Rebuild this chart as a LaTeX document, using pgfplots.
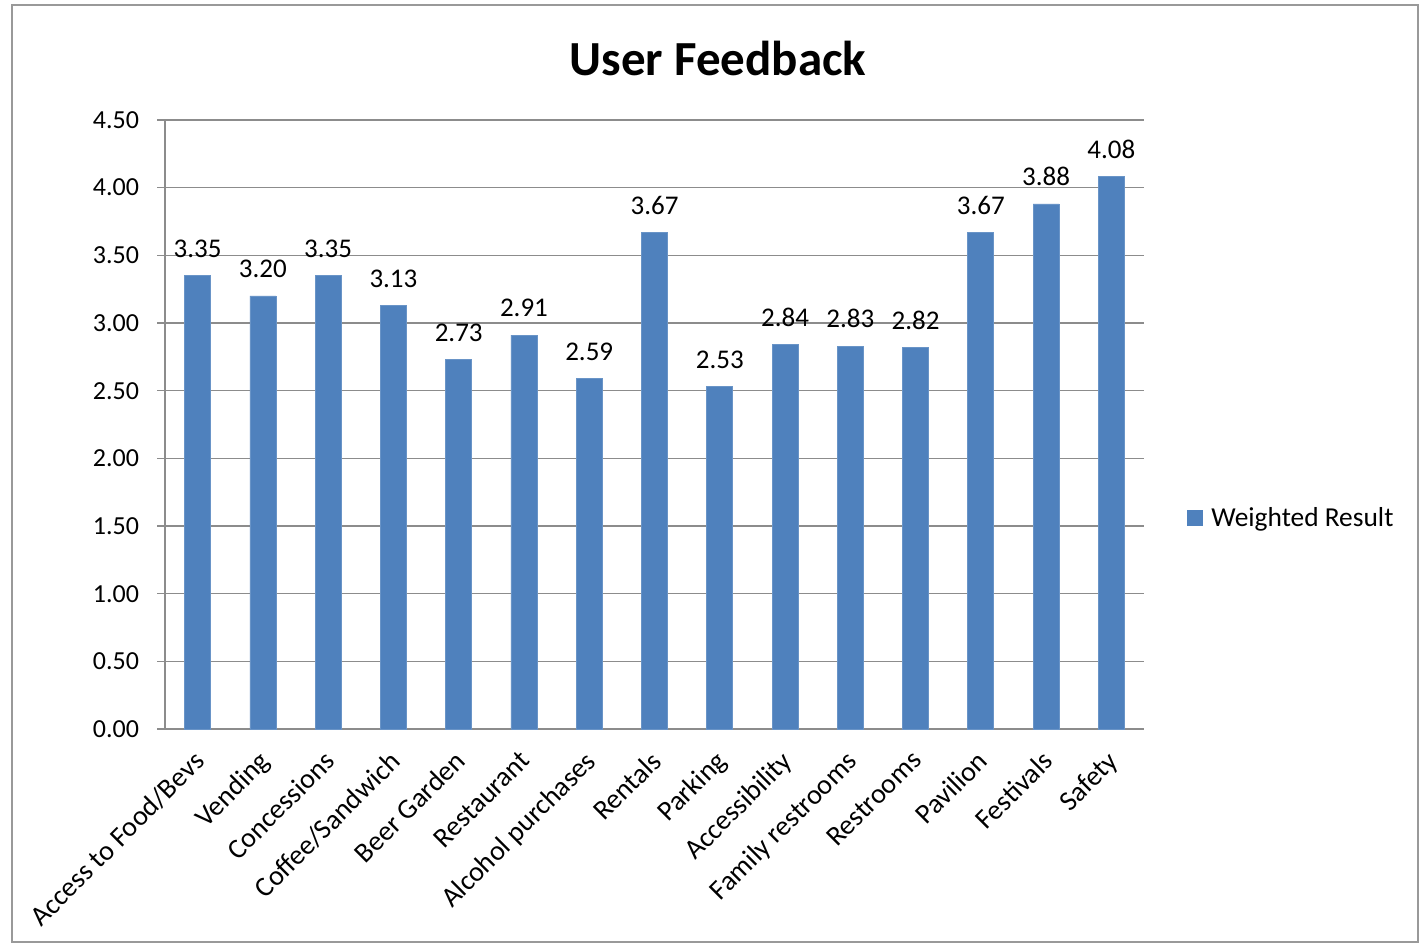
\documentclass[border=0pt]{standalone}
\usepackage{fontspec}
\setmainfont{Carlito}
\usepackage{pgfplots}
\pgfplotsset{compat=1.18}
\definecolor{barblue}{HTML}{4F81BD}
\definecolor{gridgray}{HTML}{8C8C8C}
\begin{document}
\begin{tikzpicture}
\useasboundingbox (0,0) rectangle (712.5bp,472.5bp);
\draw[gray!80, line width=1bp] (6bp,1.5bp) rectangle (709bp,470bp);
\node[font=\fontsize{24.5bp}{29bp}\selectfont\bfseries] at (359bp,443.5bp) {User Feedback};
\begin{axis}[
  at={(82.5bp,108bp)}, anchor=south west,
  scale only axis, width=489.5bp, height=304.5bp,
  xmin=-0.5, xmax=14.5, ymin=0, ymax=4.5,
  ytick={0,0.5,...,4.5},
  axis x line=bottom, axis y line=left,
  axis line style={gridgray, line width=0.8bp, -},
  ymajorgrids, grid style={gridgray, line width=0.7bp},
  tick align=outside, major tick length=4bp,
  xtick={0,...,14},
  xticklabels={Access to Food/Bevs,Vending,Concessions,Coffee/Sandwich,Beer Garden,Restaurant,Alcohol purchases,Rentals,Parking,Accessibility,Family restrooms,Restrooms,Pavilion,Festivals,Safety},
  xtick style={draw=none},
  minor xtick={-0.5,0.5,...,14.5},
  minor tick length=4.5bp,
  minor tick style={gridgray, line width=0.8bp},
  ytick style={gridgray, line width=0.8bp},
  x tick label style={rotate=45, anchor=north east, font=\fontsize{14bp}{17bp}\selectfont, xshift=-2.8bp, yshift=1bp},
  y tick label style={font=\fontsize{13bp}{16bp}\selectfont, xshift=-5.5bp},
  yticklabel style={/pgf/number format/.cd, fixed, fixed zerofill, precision=2},
  /pgf/number format/assume math mode=true,
  ybar, bar width=13bp,
  nodes near coords,
  nodes near coords style={font=\fontsize{13.5bp}{16bp}\selectfont, yshift=5.5bp, /pgf/number format/.cd, fixed, fixed zerofill, precision=2, assume math mode=true},
  legend style={at={(1.037,0.346)}, anchor=west, draw=none, fill=none, font=\fontsize{13.7bp}{16bp}\selectfont},
  legend image code/.code={\fill[barblue] (0bp,-3.75bp) rectangle (7.5bp,3.75bp); \path (10bp,0bp);},
  clip=false,
]
\addplot[fill=barblue, draw=barblue!85!white] coordinates {
(0,3.35) (1,3.20) (2,3.35) (3,3.13) (4,2.73) (5,2.91) (6,2.59) (7,3.67) (8,2.53) (9,2.84) (10,2.83) (11,2.82) (12,3.67) (13,3.88) (14,4.08)};
\addlegendentry{Weighted Result}
\end{axis}
\end{tikzpicture}
\end{document}
